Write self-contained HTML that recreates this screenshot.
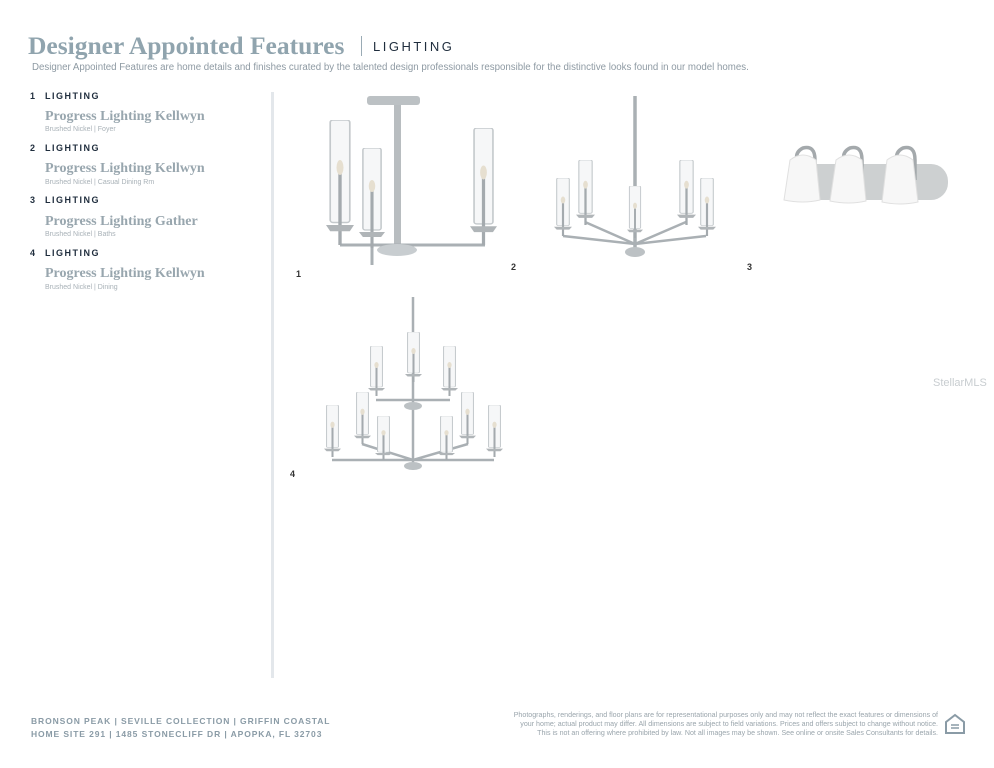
<!DOCTYPE html>
<html><head><meta charset="utf-8"><style>
body{margin:0;width:994px;height:768px;background:#fff;position:relative;overflow:hidden;font-family:"Liberation Sans",sans-serif}
.a{position:absolute;white-space:nowrap}
.t{font-family:"Liberation Serif",serif;color:#90a4ae;font-size:25.5px;font-weight:bold;left:28px;top:31px}
.lt{left:373px;top:39px;font-size:13px;letter-spacing:2.5px;color:#1f2d3d}
.bar{left:361px;top:36px;width:1px;height:20px;background:#9aabb5}
.sub{left:32px;top:62px;font-size:9.7px;color:#8e9aa3}
.n{font-size:9px;font-weight:bold;color:#1f2d3d;letter-spacing:1.5px}
.p{font-family:"Liberation Serif",serif;font-size:14px;color:#98a6ae;font-weight:bold}
.s{font-size:7px;color:#a8b1b7}
.f{font-size:8.5px;color:#8a9ba6;letter-spacing:0.9px;font-weight:bold}
.d{font-size:7.1px;color:#9aa5ac;text-align:right;line-height:9px}
.num{font-size:9px;color:#333;font-weight:bold}
</style></head><body>
<div class="a t">Designer Appointed Features</div>
<div class="a bar"></div>
<div class="a lt">LIGHTING</div>
<div class="a sub">Designer Appointed Features are home details and finishes curated by the talented design professionals responsible for the distinctive looks found in our model homes.</div>

<div class="a n" style="left:30px;top:91px">1</div><div class="a n" style="left:45px;top:91px">LIGHTING</div>
<div class="a p" style="left:45px;top:109px">Progress Lighting Kellwyn</div>
<div class="a s" style="left:45px;top:126px">Brushed Nickel | Foyer</div>
<div class="a n" style="left:30px;top:143px">2</div><div class="a n" style="left:45px;top:143px">LIGHTING</div>
<div class="a p" style="left:45px;top:161px">Progress Lighting Kellwyn</div>
<div class="a s" style="left:45px;top:179px">Brushed Nickel | Casual Dining Rm</div>
<div class="a n" style="left:30px;top:195px">3</div><div class="a n" style="left:45px;top:195px">LIGHTING</div>
<div class="a p" style="left:45px;top:214px">Progress Lighting Gather</div>
<div class="a s" style="left:45px;top:231px">Brushed Nickel | Baths</div>
<div class="a n" style="left:30px;top:248px">4</div><div class="a n" style="left:45px;top:248px">LIGHTING</div>
<div class="a p" style="left:45px;top:266px">Progress Lighting Kellwyn</div>
<div class="a s" style="left:45px;top:284px">Brushed Nickel | Dining</div>

<div class="a" style="left:271px;top:92px;width:3px;height:586px;background:#e3e7eb"></div>

<svg class="a" style="left:0;top:0" width="994" height="768">
<defs>
<symbol id="c" viewBox="0 0 20 100" preserveAspectRatio="none">
<rect x="3" y="0" width="14" height="82" rx="2" fill="#f6f7f8" stroke="#c4c9cc" stroke-width="1.2"/>
<rect x="8.8" y="40" width="2.4" height="60" fill="#a4aaae"/>
<ellipse cx="10" cy="38" rx="2.5" ry="6" fill="#e6dfd0"/>
<path d="M0 84 L20 84 L17 89 L3 89Z" fill="#b0b5b8"/>
</symbol>
</defs>
<g stroke="#aab0b4" fill="none">
<rect x="367" y="96" width="53" height="9" rx="3" fill="#bcc1c4" stroke="none"/>
<rect x="394" y="105" width="7" height="148" fill="#b8bdc0" stroke="none"/>
<path d="M340 245 H485 M372 245 V265" stroke-width="3"/>
<ellipse cx="397" cy="250" rx="20" ry="6" fill="#c8cdd0" stroke="none"/>
</g>
<use href="#c" x="326" y="120" width="28" height="125"/>
<use href="#c" x="359" y="148" width="26" height="100"/>
<use href="#c" x="470" y="128" width="27" height="117"/>
<g stroke="#aab0b4" fill="none" stroke-width="2.5">
<path d="M635 96 V250" stroke-width="3.5"/>
<path d="M563 236 L635 244 L706 236 M585 222 L635 244 L686 222"/>
<ellipse cx="635" cy="252" rx="10" ry="5" fill="#bcc1c4" stroke="none"/>
<path d="M413 297 V470" stroke-width="2.5"/>
<path d="M376 400 H450 M332 460 H494 M362 444 L413 460 L468 444" />
<ellipse cx="413" cy="406" rx="9" ry="4" fill="#bcc1c4" stroke="none"/>
<ellipse cx="413" cy="466" rx="9" ry="4" fill="#bcc1c4" stroke="none"/>
</g>
<use href="#c" x="554" y="178" width="18" height="58"/>
<use href="#c" x="576" y="160" width="19" height="65"/>
<use href="#c" x="627" y="186" width="16" height="52"/>
<use href="#c" x="677" y="160" width="19" height="65"/>
<use href="#c" x="698" y="178" width="18" height="58"/>

<use href="#c" x="368" y="346" width="17" height="50"/>
<use href="#c" x="405" y="332" width="17" height="50"/>
<use href="#c" x="441" y="346" width="17" height="50"/>
<use href="#c" x="324" y="405" width="17" height="52"/>
<use href="#c" x="354" y="392" width="17" height="52"/>
<use href="#c" x="375" y="416" width="17" height="44"/>
<use href="#c" x="438" y="416" width="17" height="44"/>
<use href="#c" x="459" y="392" width="17" height="52"/>
<use href="#c" x="486" y="405" width="17" height="52"/>

<rect x="800" y="164" width="148" height="36" rx="17" fill="#cdd0d1"/>
<g stroke="#a4a9ac" stroke-width="3.5" fill="none">
<path d="M815 180 V160 Q815 145 803 148 Q795 152 797 160"/>
<path d="M862 180 V160 Q862 145 850 148 Q842 152 844 160"/>
<path d="M915 180 V160 Q915 145 903 148 Q895 152 897 160"/>
</g>
<path d="M790 160 Q803 150 816 160 L820 200 Q803 204 784 200Z" fill="#f7f7f7" stroke="#e0e0e0"/>
<path d="M836 160 Q849 150 862 160 L866 201 Q849 205 830 201Z" fill="#f7f7f7" stroke="#e0e0e0"/>
<path d="M887 160 Q900 150 913 160 L918 202 Q900 206 882 202Z" fill="#f7f7f7" stroke="#e0e0e0"/>
</svg>

<div class="a num" style="left:296px;top:269px">1</div>
<div class="a num" style="left:511px;top:262px">2</div>
<div class="a num" style="left:747px;top:262px">3</div>
<div class="a num" style="left:290px;top:469px">4</div>
<div class="a" style="left:933px;top:377px;font-size:11px;color:#c8cdd0">StellarMLS</div>

<div class="a f" style="left:31px;top:716px">BRONSON PEAK | SEVILLE COLLECTION | GRIFFIN COASTAL</div>
<div class="a f" style="left:31px;top:729px">HOME SITE 291 | 1485 STONECLIFF DR | APOPKA, FL 32703</div>
<div class="a d" style="right:56px;top:711px">Photographs, renderings, and floor plans are for representational purposes only and may not reflect the exact features or dimensions of<br>your home; actual product may differ. All dimensions are subject to field variations. Prices and offers subject to change without notice.<br>This is not an offering where prohibited by law. Not all images may be shown. See online or onsite Sales Consultants for details.</div>
<svg class="a" style="left:944px;top:713px" width="22" height="24"><path d="M2 9 L11 2 L20 9 V20 H2Z" fill="none" stroke="#8a9ba6" stroke-width="2"/><path d="M7 12 H15 M7 15 H15" stroke="#8a9ba6" stroke-width="1.5"/></svg>
</body></html>
